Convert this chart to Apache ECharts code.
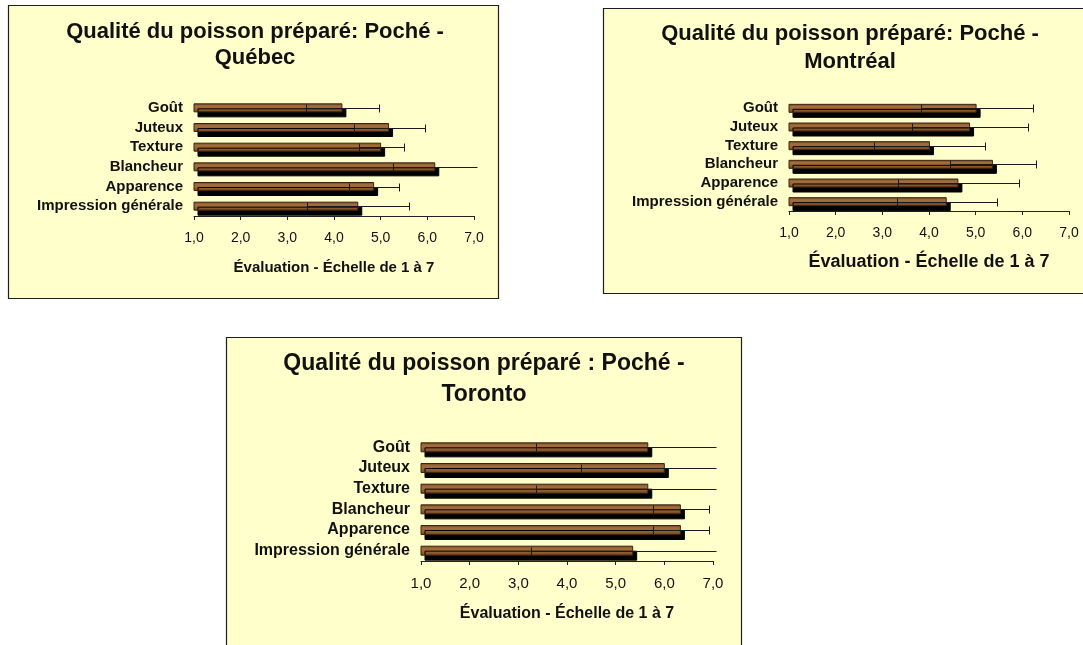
<!DOCTYPE html>
<html>
<head>
<meta charset="utf-8">
<script src="https://cdn.jsdelivr.net/npm/echarts@6/dist/echarts.min.js"></script>
<style>
  html, body { margin: 0; padding: 0; background: #ffffff; }
  #chart { width: 1083px; height: 645px; }
</style>
</head>
<body>
<div id="chart"></div>
<script>
// Sensory attributes, listed top to bottom
const categories = ['Goût', 'Juteux', 'Texture', 'Blancheur', 'Apparence', 'Impression générale'];

// Mean scores (scale 1 to 7) and error half-widths per city
const quebecMeans   = [4.18, 5.18, 5.01, 6.17, 4.86, 4.52];
const quebecErr     = [0.78, 0.76, 0.48, 0.90, 0.53, 1.09];
const montrealMeans = [5.02, 4.88, 4.02, 5.37, 4.63, 4.38];
const montrealErr   = [1.20, 1.25, 1.19, 0.93, 1.30, 1.07];
const torontoMeans  = [5.67, 6.01, 5.67, 6.34, 6.34, 5.36];
const torontoErr    = [2.31, 1.72, 2.31, 0.57, 0.57, 2.11];

const axisMin = 1;
const axisMax = 7;
const axisStep = 1;

const panelTitles = [
  'Qualité du poisson préparé: Poché -\nQuébec',
  'Qualité du poisson préparé: Poché -\nMontréal',
  'Qualité du poisson préparé : Poché -\nToronto'
];
const axisTitle = 'Évaluation - Échelle de 1 à 7';

const FONT = '"Liberation Sans", Arial, Helvetica, sans-serif';

// Layout of each panel (frame, plot area, text sizes)
const panels = [
  { means: quebecMeans, err: quebecErr, frame: [8, 5, 490, 293],
    grid: { left: 194, top: 98, width: 280, height: 118 },
    titleX: 255, titleY: 19, titleSize: 22, titleLH: 26,
    catSize: 15, tickSize: 14, nameSize: 15, nameGap: 44, barW: 9 },
  { means: montrealMeans, err: montrealErr, frame: [603, 8, 492, 285],
    grid: { left: 789, top: 99, width: 280, height: 112 },
    titleX: 850, titleY: 20, titleSize: 22, titleLH: 28,
    catSize: 15, tickSize: 14, nameSize: 18, nameGap: 42, barW: 9 },
  { means: torontoMeans, err: torontoErr, frame: [226, 337, 515, 330],
    grid: { left: 421, top: 437, width: 292, height: 124 },
    titleX: 484, titleY: 348, titleSize: 23, titleLH: 31,
    catSize: 16, tickSize: 15, nameSize: 16, nameGap: 45, barW: 10 }
];

const woodFill = new echarts.graphic.LinearGradient(0, 0, 0, 1, [
  { offset: 0, color: '#6a4020' },
  { offset: 0.3, color: '#a46e3c' },
  { offset: 0.6, color: '#9a6434' },
  { offset: 1, color: '#6c4321' }
]);

const fmtTick = v => v.toFixed(1).replace('.', ',');

const grids = [], xAxes = [], yAxes = [], series = [], graphics = [];

panels.forEach((p, i) => {
  graphics.push({
    type: 'rect', z: -10, silent: true,
    shape: { x: p.frame[0] + 0.5, y: p.frame[1] + 0.5, width: p.frame[2], height: p.frame[3] },
    style: { fill: '#ffffcc', stroke: '#1e1e1e', lineWidth: 1.2 }
  });
  graphics.push({
    type: 'text', z: 10, silent: true,
    x: p.titleX, y: p.titleY,
    style: {
      text: panelTitles[i], fill: '#111', align: 'center', verticalAlign: 'top',
      font: 'bold ' + p.titleSize + 'px ' + FONT, lineHeight: p.titleLH
    }
  });

  grids.push(Object.assign({ containLabel: false }, p.grid));

  xAxes.push({
    gridIndex: i, type: 'value', min: axisMin, max: axisMax, interval: axisStep,
    name: axisTitle, nameLocation: 'middle', nameGap: p.nameGap,
    nameTextStyle: { fontFamily: FONT, fontWeight: 'bold', fontSize: p.nameSize, color: '#111' },
    axisLine: { show: true, lineStyle: { color: '#222', width: 1 } },
    axisTick: { show: true, length: 4, lineStyle: { color: '#222' } },
    axisLabel: { formatter: fmtTick, fontFamily: FONT, fontSize: p.tickSize, color: '#111', margin: 15 },
    splitLine: { show: false }
  });

  yAxes.push({
    gridIndex: i, type: 'category', data: categories, inverse: true,
    axisLine: { show: false }, axisTick: { show: false },
    axisLabel: { interval: 0, fontFamily: FONT, fontWeight: 'bold', fontSize: p.catSize, color: '#111', margin: 11 }
  });

  series.push({
    type: 'bar', xAxisIndex: i, yAxisIndex: i, barWidth: p.barW,
    data: p.means,
    itemStyle: {
      color: woodFill, borderColor: '#3e2410', borderWidth: 1,
      shadowColor: '#000', shadowBlur: 0, shadowOffsetX: 4, shadowOffsetY: 5
    },
    emphasis: { disabled: true },
    animation: false
  });

  // Error bars: line from mean - err to mean + err, with caps (no cap when cut at axis max)
  series.push({
    type: 'custom', xAxisIndex: i, yAxisIndex: i, z: 5,
    data: p.means.map((m, k) => [m, k, p.err[k]]),
    encode: { x: 0, y: 1 },
    clip: false,
    animation: false,
    renderItem: function (params, api) {
      const m = api.value(0), k = api.value(1), e = api.value(2);
      const lo = api.coord([m - e, k]);
      const hiVal = m + e;
      const cut = hiVal > axisMax;
      const hi = api.coord([Math.min(hiVal, axisMax), k]);
      const y = Math.round(lo[1]) + 0.5;
      const xLo = Math.round(lo[0]) + 0.5;
      const xHi = Math.round(hi[0]) + (cut ? 3 : 0) + 0.5;
      const h = 4;
      const st = { stroke: '#1a1a1a', lineWidth: 1 };
      const kids = [
        { type: 'line', shape: { x1: xLo, y1: y, x2: xHi, y2: y }, style: st },
        { type: 'line', shape: { x1: xLo, y1: y - h, x2: xLo, y2: y + h }, style: st }
      ];
      if (!cut) {
        kids.push({ type: 'line', shape: { x1: xHi, y1: y - h, x2: xHi, y2: y + h }, style: st });
      }
      return { type: 'group', children: kids };
    }
  });
});

const chart = echarts.init(document.getElementById('chart'), null, { renderer: 'canvas' });
chart.setOption({
  backgroundColor: '#ffffff',
  animation: false,
  graphic: graphics,
  grid: grids,
  xAxis: xAxes,
  yAxis: yAxes,
  series: series
});
</script>
</body>
</html>
